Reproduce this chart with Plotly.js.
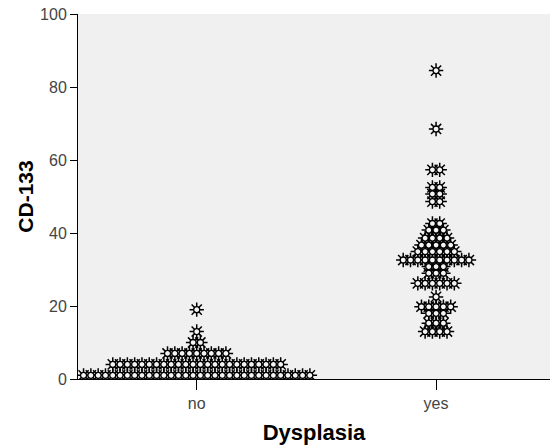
<!DOCTYPE html>
<html><head><meta charset="utf-8">
<script src="https://cdn.plot.ly/plotly-3.0.1.min.js"></script>
<style>html,body{margin:0;padding:0;background:#fff}#chart{width:550px;height:445px}</style>
</head><body><div id="chart"></div>
<script>
// Categories on the x axis
const categories = ['no', 'yes'];
// CD-133 values (stacked rows) and number of cases at each value, per group
const noLevels = [1, 4, 7, 10, 13, 19];
const noCounts = [32, 24, 9, 2, 1, 1];
const yesLevels = [84.5, 68.5, 57.3, 52.5, 50.7, 48.6, 42.6, 40.8, 38.6, 36.7, 34.9, 32.6, 30.8, 29, 26.2, 22.5, 19.8, 18, 15.3, 13];
const yesCounts = [1, 1, 2, 2, 2, 2, 2, 3, 4, 5, 6, 10, 3, 3, 6, 1, 5, 3, 3, 4];

const STEP = 0.0305; // horizontal spacing between stacked dots (category units)

function swarm(catIndex, levels, counts) {
  const xs = [], ys = [];
  levels.forEach((v, i) => {
    const n = counts[i];
    for (let k = 0; k < n; k++) {
      xs.push(catIndex + (k - (n - 1) / 2) * STEP);
      ys.push(v);
    }
  });
  return {xs, ys};
}

const a = swarm(0, noLevels, noCounts);
const b = swarm(1, yesLevels, yesCounts);
const X = a.xs.concat(b.xs), Y = a.ys.concat(b.ys);

const traces = [
  {x: X, y: Y, type: 'scatter', mode: 'markers', hoverinfo: 'skip',
   marker: {symbol: 'asterisk-open', size: 12, color: '#000', line: {color: '#000', width: 1.5}}},
  {x: X, y: Y, type: 'scatter', mode: 'markers', hoverinfo: 'skip',
   marker: {symbol: 'circle', size: 6, color: '#f4f4f4', line: {color: '#000', width: 1.3}}}
];

const font = 'Arial, "Liberation Sans", sans-serif';
const layout = {
  width: 550, height: 445,
  margin: {l: 78, r: 0, t: 14, b: 66, pad: 0},
  paper_bgcolor: '#ffffff', plot_bgcolor: '#f0f0f0',
  showlegend: false,
  font: {family: font, color: '#444'},
  xaxis: {
    range: [-0.496, 1.476], tickvals: [0, 1], ticktext: categories,
    ticks: 'outside', ticklen: 10, tickcolor: '#000', tickwidth: 1,
    showline: true, linecolor: '#000', linewidth: 1,
    showgrid: false, zeroline: false, fixedrange: true,
    tickfont: {family: font, size: 16, color: '#444'},
    title: {text: '<b>Dysplasia</b>', font: {family: font, size: 22, color: '#000'}, standoff: 13}
  },
  yaxis: {
    range: [0, 100], tickvals: [0, 20, 40, 60, 80, 100],
    ticks: 'outside', ticklen: 7, tickcolor: '#000', tickwidth: 1,
    showline: true, linecolor: '#000', linewidth: 1,
    showgrid: false, zeroline: false, fixedrange: true,
    tickfont: {family: font, size: 16, color: '#444'},
    title: {text: '<b>CD-133</b>', font: {family: font, size: 21, color: '#000'}, standoff: 0}
  }
};

Plotly.newPlot('chart', traces, layout, {displayModeBar: false, staticPlot: true});
</script>
</body></html>
